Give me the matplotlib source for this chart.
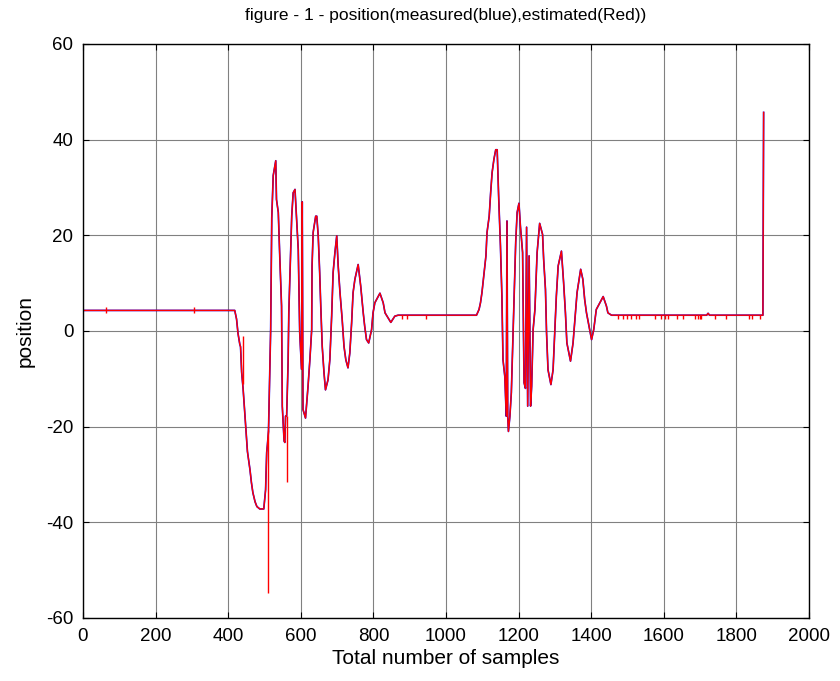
import numpy as np
import matplotlib
matplotlib.use('Agg')
import matplotlib.pyplot as plt

plt.rcParams['font.family'] = ['Liberation Sans', 'DejaVu Sans']
plt.rcParams['axes.unicode_minus'] = False

# measured position (sample index, value)
samples = [0, 418, 423, 427, 432, 434, 437, 441, 448, 453, 460, 464, 468, 474, 479, 487, 498,
           503, 506, 508, 511, 517, 520, 524, 531, 533, 538, 542, 547, 549, 554, 556, 558, 561,
           565, 567, 575, 579, 584, 588, 593, 597, 602, 604, 606, 613, 620, 625, 630, 631, 634,
           641, 644, 648, 652, 655, 659, 664, 668, 675, 680, 685, 689, 694, 699, 703, 708, 714,
           719, 724, 730, 735, 740, 744, 749, 758, 765, 772, 776, 781, 787, 795, 799, 804, 818,
           827, 832, 843, 848, 859, 868,
           1084, 1091, 1095, 1099, 1104, 1110, 1113, 1119, 1123, 1127, 1132, 1137, 1141, 1145,
           1150, 1154, 1157, 1162, 1166, 1168, 1170, 1172, 1176, 1180, 1185, 1189, 1192, 1196,
           1201, 1205, 1211, 1215, 1219, 1222, 1225, 1229, 1233, 1236, 1240, 1245, 1251, 1258,
           1266, 1269, 1274, 1277, 1281, 1289, 1295, 1300, 1304, 1309, 1318, 1324, 1329, 1333,
           1343, 1350, 1355, 1361, 1371, 1377, 1382, 1387, 1401, 1407, 1414, 1419, 1433, 1442,
           1446, 1456, 1718, 1722, 1726, 1873, 1875]
measured = [4.3, 4.3, 2.5, -0.5, -2.8, -3.3, -8.6, -12.0, -19.9, -25.2, -29.0, -31.7, -33.8,
            -35.7, -36.7, -37.2, -37.2, -33.2, -25.4, -23.8, -21.0, 0.3, 23.6, 32.5, 35.6, 27.5,
            24.8, 15.7, 5.2, -15.7, -23.0, -23.3, -17.8, -17.8, -6.6, 3.9, 24.0, 28.9, 29.6,
            24.0, 17.0, -0.3, -8.0, 27.0, -16.4, -18.2, -11.5, -6.0, 0.3, 13.6, 20.6, 24.0,
            24.0, 19.9, 12.2, 5.2, -3.2, -8.8, -12.3, -10.2, -6.0, 3.1, 12.2, 16.4, 19.9, 13.6,
            8.0, 2.4, -3.2, -6.0, -7.7, -4.6, 1.7, 8.0, 10.8, 13.9, 9.4, 3.8, 1.0, -1.8, -2.5,
            0.3, 3.8, 5.9, 7.9, 5.9, 3.8, 2.4, 1.8, 3.1, 3.3,
            3.3, 4.5, 5.9, 8.0, 11.5, 15.7, 20.6, 24.0, 28.9, 33.1, 35.9, 37.9, 37.9, 28.2,
            17.8, 7.3, -6.0, -9.5, -17.8, 23.0, -17.8, -21.0, -17.8, -12.9, 0.3, 10.8, 18.5,
            24.8, 26.7, 21.9, 16.4, -10.8, -12.0, 21.7, -15.7, 15.7, -15.7, -11.5, 0.3, 4.5,
            16.4, 22.5, 20.2, 15.0, 8.7, -0.4, -8.1, -11.2, -8.1, 0.3, 7.3, 13.6, 16.7, 10.1,
            3.8, -2.5, -6.3, -2.5, 2.4, 8.0, 12.9, 10.8, 6.6, 3.8, -1.8, 0.3, 4.5, 5.2, 7.2,
            5.2, 3.8, 3.3, 3.3, 3.7, 3.3, 3.3, 45.7]

# extra glitches that only show in the estimated (red) trace
spike_samples = [62, 306, 441, 511, 562, 878, 892, 946, 1475, 1488, 1499, 1511, 1524, 1533,
                 1575, 1593, 1602, 1611, 1635, 1653, 1685, 1694, 1699, 1703, 1740, 1772,
                 1834, 1842, 1864]
spike_low = [3.7, 3.7, -11.0, -54.8, -31.5, 2.5, 2.5, 2.5, 2.5, 2.5, 2.5, 2.5, 2.5, 2.5,
             2.5, 2.5, 2.5, 2.5, 2.5, 2.5, 2.5, 2.5, 2.5, 2.5, 2.5, 2.5, 2.5, 2.5, 2.5]
spike_high = [5.0, 5.0, -1.0, -20.6, -17.8, 3.3, 3.3, 3.3, 3.3, 3.3, 3.3, 3.3, 3.3, 3.3,
              3.3, 3.3, 3.3, 3.3, 3.3, 3.3, 3.3, 3.3, 3.3, 3.3, 3.3, 3.3, 3.3, 3.3, 3.3]

fig = plt.figure(figsize=(8.4, 6.81), dpi=100)
ax = fig.add_axes([83/840, 1-618/681, (809-83)/840, (618-44)/681])

ax.plot(samples, measured, c='b', lw=1.2)
ax.plot(samples, measured, c='r', lw=1.0)
ax.vlines(spike_samples, spike_low, spike_high, colors='r', lw=1.0)

ax.set_xlim(0, 2000)
ax.set_ylim(-60, 60)
ax.set_xticks(np.arange(0, 2001, 200))
ax.set_yticks(np.arange(-60, 61, 20))
ax.grid(True, color='#808080', lw=0.8)
ax.set_axisbelow(True)
ax.tick_params(direction='in', top=True, right=True, length=4, labelsize=13.5, pad=7)
for sp in ax.spines.values():
    sp.set_linewidth(1.0)

ax.set_xlabel('Total number of samples', fontsize=15, labelpad=3)
ax.set_ylabel('position', fontsize=15, labelpad=8)
ax.set_title('figure - 1 - position(measured(blue),estimated(Red))', fontsize=12.5, pad=17)

fig.savefig('out.png', dpi=100)
